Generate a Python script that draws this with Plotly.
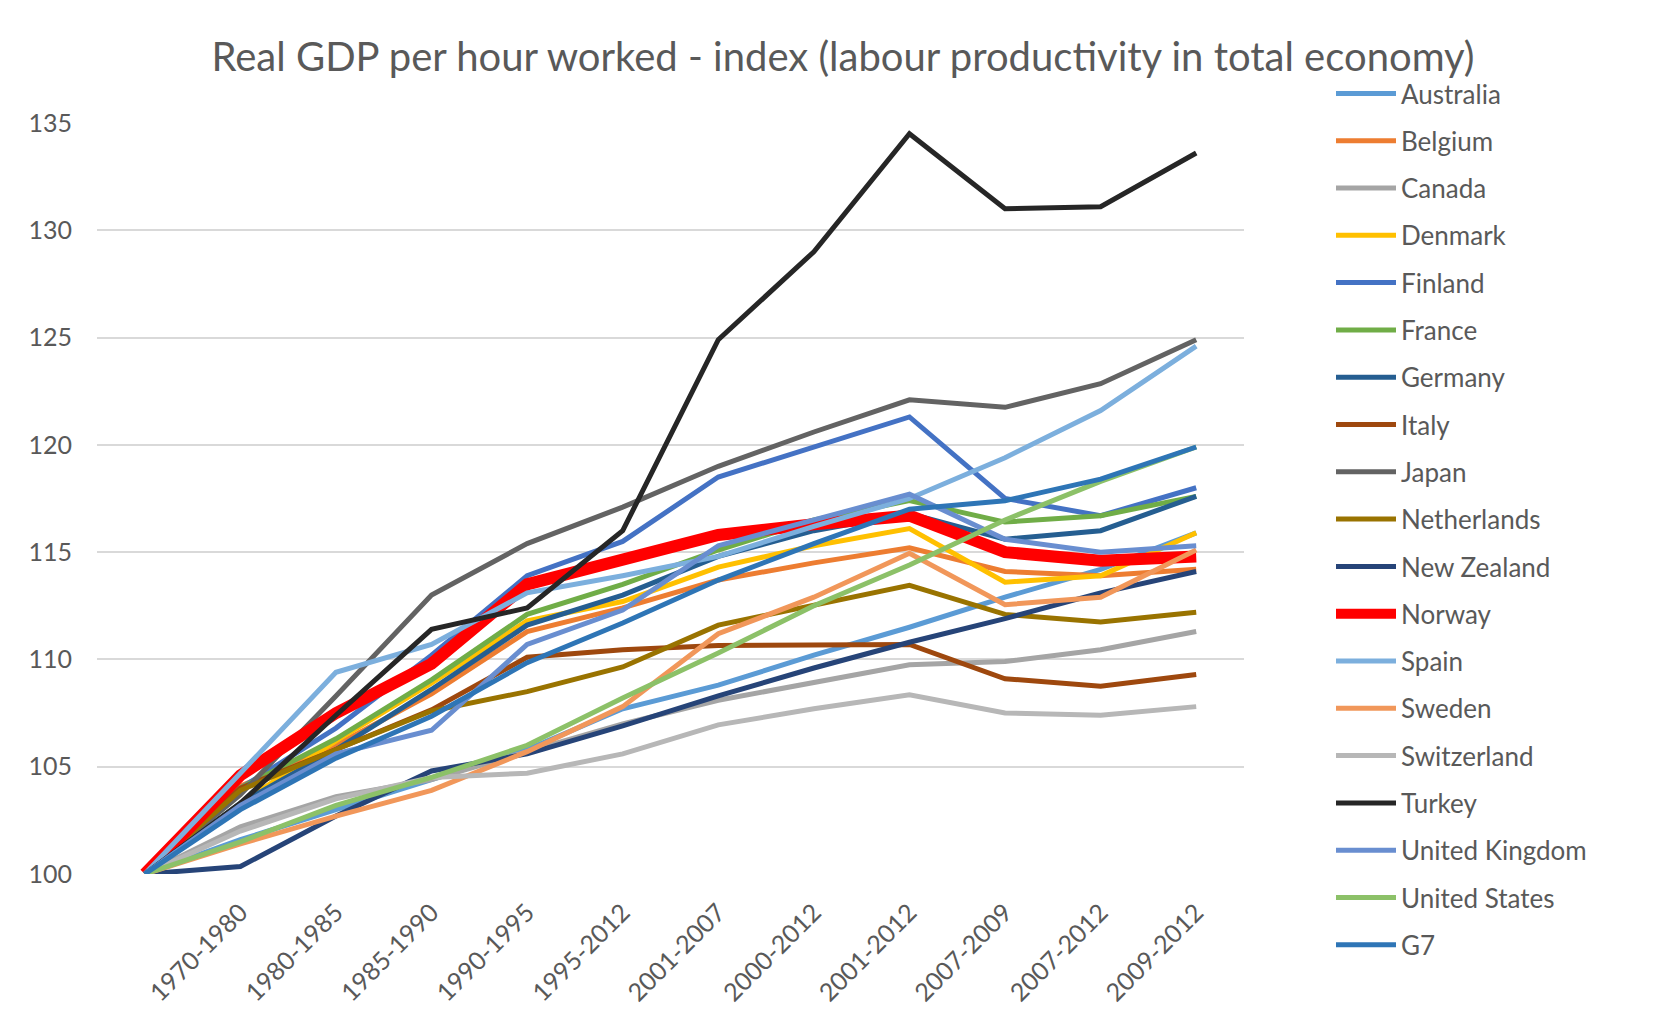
import plotly.graph_objects as go

periods = ["", "1970-1980", "1980-1985", "1985-1990", "1990-1995", "1995-2012",
           "2001-2007", "2000-2012", "2001-2012", "2007-2009", "2007-2012", "2009-2012"]

countries = ["Australia", "Belgium", "Canada", "Denmark", "Finland", "France", "Germany",
             "Italy", "Japan", "Netherlands", "New Zealand", "Norway", "Spain", "Sweden",
             "Switzerland", "Turkey", "United Kingdom", "United States", "G7"]

australia = [100, 101.6, 103.0, 104.4, 105.8, 107.7, 108.8, 110.2, 111.5, 112.9, 114.2, 115.9]
belgium = [100, 104.1, 106.0, 108.4, 111.3, 112.4, 113.7, 114.5, 115.2, 114.1, 113.9, 114.2]
canada = [100, 102.2, 103.6, 104.4, 105.7, 107.0, 108.1, 108.9, 109.75, 109.9, 110.45, 111.3]
denmark = [100, 103.3, 106.2, 108.9, 111.8, 112.7, 114.3, 115.3, 116.1, 113.6, 113.9, 115.9]
finland = [100, 104.0, 106.8, 110.2, 113.9, 115.5, 118.5, 119.9, 121.3, 117.5, 116.7, 118.0]
france = [100, 104.0, 106.3, 109.05, 112.1, 113.5, 115.1, 116.5, 117.4, 116.4, 116.7, 117.6]
germany = [100, 103.3, 105.8, 108.6, 111.6, 113.0, 114.8, 116.0, 116.8, 115.6, 116.0, 117.6]
italy = [100, 104.0, 105.8, 107.65, 110.1, 110.45, 110.65, 110.65, 110.7, 109.1, 108.75, 109.3]
japan = [100, 103.7, 108.3, 113.0, 115.4, 117.1, 119.0, 120.6, 122.1, 121.75, 122.85, 124.9]
netherlands = [100, 103.9, 105.8, 107.6, 108.5, 109.65, 111.6, 112.5, 113.45, 112.1, 111.75, 112.2]
new_zealand = [100, 100.35, 102.7, 104.8, 105.6, 106.9, 108.3, 109.6, 110.8, 111.9, 113.1, 114.1]
norway = [100, 104.6, 107.5, 109.8, 113.5, 114.7, 115.8, 116.3, 116.7, 115.0, 114.6, 114.8]
spain = [100, 104.7, 109.4, 110.7, 113.1, 113.9, 114.8, 116.2, 117.5, 119.4, 121.6, 124.6]
sweden = [100, 101.4, 102.7, 103.9, 105.7, 107.8, 111.2, 112.9, 114.95, 112.55, 112.9, 115.1]
switzerland = [100, 102.0, 103.5, 104.5, 104.7, 105.6, 106.95, 107.7, 108.35, 107.5, 107.4, 107.8]
turkey = [100, 103.3, 107.4, 111.4, 112.4, 116.0, 124.9, 129.0, 134.5, 131.0, 131.1, 133.6]
united_kingdom = [100, 103.2, 105.6, 106.7, 110.7, 112.3, 115.3, 116.5, 117.7, 115.6, 115.0, 115.3]
united_states = [100, 101.5, 103.2, 104.5, 106.0, 108.2, 110.3, 112.5, 114.4, 116.5, 118.3, 119.9]
g7 = [100, 103.0, 105.4, 107.35, 109.85, 111.7, 113.7, 115.4, 117.0, 117.4, 118.4, 119.9]

series = [australia, belgium, canada, denmark, finland, france, germany, italy, japan,
          netherlands, new_zealand, norway, spain, sweden, switzerland, turkey,
          united_kingdom, united_states, g7]

colors = ["#5B9BD5", "#ED7D31", "#A5A5A5", "#FFC000", "#4472C4", "#70AD47", "#255E91",
          "#9E480E", "#636363", "#997300", "#264478", "#FF0000", "#7CAFDD", "#F1975A",
          "#B7B7B7", "#262626", "#698ED0", "#8CC168", "#2E75B6"]

y_ticks = [100, 105, 110, 115, 120, 125, 130, 135]

FONT = "Lato"
TXT = "#595959"

x_idx = list(range(len(periods)))

fig = go.Figure()
for name, vals, col in zip(countries, series, colors):
    w = 12 if name == "Norway" else 5
    fig.add_trace(go.Scatter(
        x=x_idx, y=vals, name=name, mode="lines",
        line=dict(color=col, width=w),
        legendgroup=name,
    ))

W, H = 1662, 997
fig.update_layout(
    width=W, height=H,
    margin=dict(l=89, r=426, t=115, b=131, autoexpand=False),
    paper_bgcolor="white", plot_bgcolor="white",
    font=dict(family=FONT, color=TXT, size=22),
    title=dict(
        text="Real GDP per hour worked - index (labour productivity in total economy)",
        font=dict(family=FONT, size=40, color=TXT),
        x=835 / W, xanchor="center", xref="container",
        y=1 - 49 / H, yanchor="middle", yref="container",
    ),
    legend=dict(
        xref="container", yref="container",
        x=1323 / W, xanchor="left",
        y=1 - 62 / H, yanchor="top",
        font=dict(family=FONT, size=26, color=TXT),
        tracegroupgap=10.5,
        itemwidth=60,
        maxheight=990,
        bgcolor="rgba(0,0,0,0)",
    ),
    showlegend=True,
)
fig.update_xaxes(
    range=[-0.5, len(periods) - 0.5],
    tickmode="array", tickvals=x_idx, ticktext=periods,
    tickangle=-45, showgrid=False, zeroline=False,
    showline=False, ticks="", automargin=False,
    ticklabelstandoff=18,
    tickfont=dict(family=FONT, size=25, color=TXT),
)
fig.update_yaxes(
    range=[100, 135], tickvals=y_ticks,
    showgrid=True, gridcolor="#D9D9D9", gridwidth=1.5,
    zeroline=False, showline=False, ticks="", automargin=False,
    ticklabelstandoff=24,
    tickfont=dict(family=FONT, size=25, color=TXT),
)

fig.write_html("out.html")
